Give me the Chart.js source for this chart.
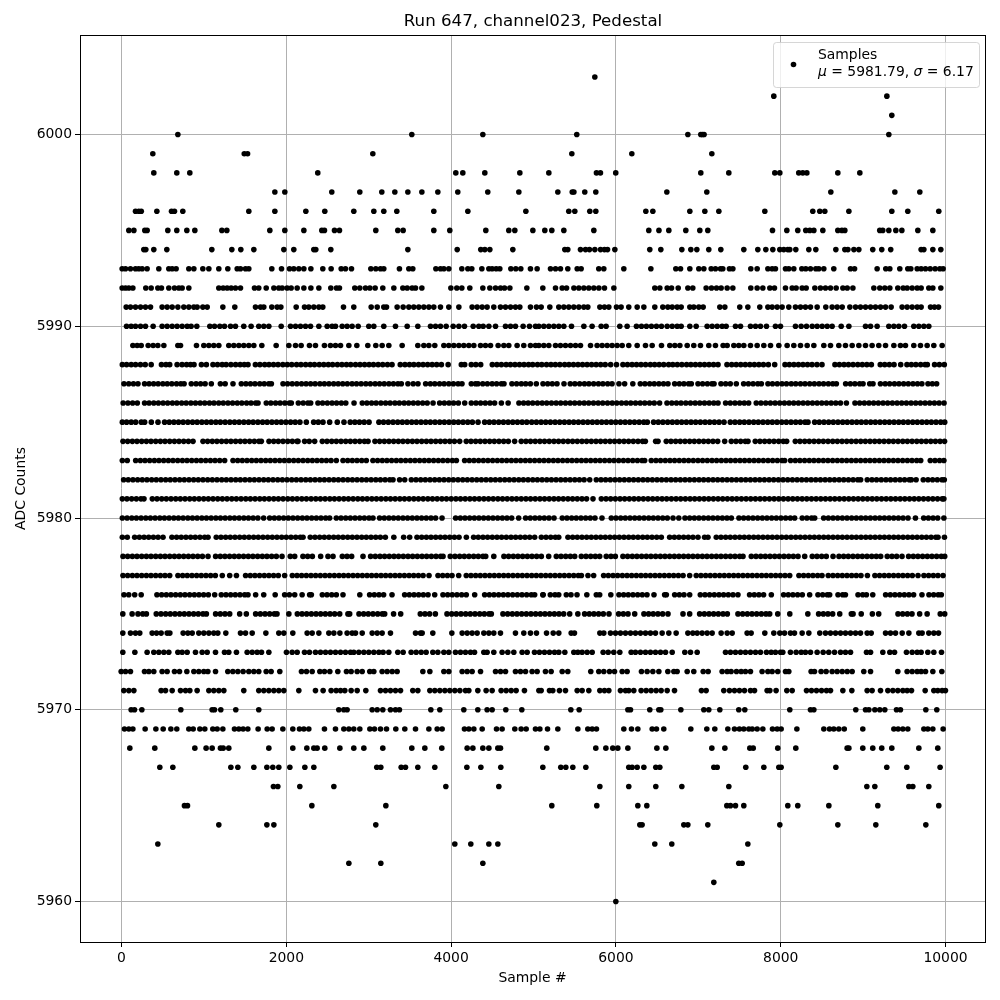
<!DOCTYPE html>
<html>
<head>
<meta charset="utf-8">
<style>html,body{margin:0;padding:0;background:#fff}#w{width:1000px;height:1000px;position:relative}</style>
<script src="https://cdn.jsdelivr.net/npm/chart.js@4"></script>
</head>
<body>
<div id="w"><canvas id="c" width="1000" height="1000"></canvas></div>
<script>
const xTicks = [0, 2000, 4000, 6000, 8000, 10000];
const yTicks = [5960, 5970, 5980, 5990, 6000];
const titleText = "Run 647, channel023, Pedestal";
const xLabel = "Sample #";
const yLabel = "ADC Counts";
const seriesName = "Samples";

const s6003 = [5744];
const s6002 = [7916, 9288];
const s6001 = [9348];
const s6000 = [684, 3523, 4385, 5525, 6873, 7030, 7050, 7070, 9312];
const s5999 = [380, 1490, 1530, 3050, 5465, 6193, 7164];
const s5998 = [392, 671, 829, 2382, 4057, 4142, 4409, 4834, 5186, 5764, 5812, 5998, 7030, 7370, 7928, 7989, 8219, 8268, 8317, 8693, 8960];
const s5997 = [1861, 1982, 2552, 2892, 3159, 3317, 3475, 3645, 3839, 4081, 4445, 4822, 5295, 5470, 5490, 5622, 5756, 6618, 7103, 8608, 9385, 9688];
const s5996 = [170, 210, 240, 429, 607, 643, 744, 1545, 1861, 2237, 2467, 2819, 3062, 3183, 3341, 3790, 4203, 4907, 5428, 5501, 5683, 5756, 6363, 6448, 6897, 7079, 7249, 7807, 8389, 8474, 8535, 8827, 9348, 9542, 9918];
const s5995 = [89, 150, 283, 311, 562, 671, 793, 890, 1218, 1278, 1800, 1982, 2213, 2431, 2463, 2585, 2645, 3086, 3353, 3418, 3790, 3984, 4421, 4700, 4773, 4992, 5137, 5222, 5368, 5732, 6399, 6522, 6642, 6848, 7018, 7115, 7900, 8074, 8207, 8304, 8353, 8402, 8511, 8693, 8742, 8778, 9202, 9238, 9312, 9397, 9470, 9664, 9846];
const s5994 = [271, 295, 392, 550, 1096, 1339, 1448, 1606, 1970, 2091, 2334, 2358, 2540, 3475, 4074, 4360, 4409, 4470, 4749, 5380, 5416, 5570, 5631, 5679, 5744, 5813, 5861, 5898, 5987, 6411, 6545, 6800, 6909, 6982, 7127, 7273, 7552, 7722, 7819, 7904, 7989, 8037, 8086, 8110, 8183, 8341, 8426, 8669, 8778, 8815, 8888, 8948, 9117, 9226, 9335, 9704, 9737, 9846, 9943];
const s5993 = [8, 49, 109, 170, 210, 251, 311, 453, 574, 615, 663, 817, 878, 987, 1060, 1181, 1290, 1404, 1444, 1505, 1545, 1824, 1942, 2039, 2091, 2152, 2213, 2298, 2443, 2544, 2666, 2718, 2791, 3026, 3086, 3143, 3183, 3373, 3487, 3535, 3815, 3871, 3912, 3972, 4130, 4203, 4251, 4373, 4458, 4498, 4547, 4591, 4725, 4785, 4846, 4963, 5044, 5206, 5267, 5327, 5416, 5530, 5578, 5792, 5853, 6096, 6424, 6727, 6784, 6897, 7006, 7067, 7156, 7208, 7269, 7297, 7378, 7419, 7637, 7714, 7844, 7896, 7936, 8058, 8098, 8159, 8256, 8304, 8361, 8426, 8462, 8523, 8644, 8847, 8896, 9170, 9275, 9324, 9445, 9542, 9579, 9656, 9704, 9757, 9814, 9874, 9931, 9971];
const s5992 = [8, 49, 89, 138, 295, 360, 441, 485, 574, 643, 696, 736, 817, 1181, 1234, 1282, 1331, 1383, 1444, 1614, 1666, 1756, 1849, 1909, 1950, 2010, 2059, 2132, 2213, 2298, 2395, 2540, 2609, 2645, 2831, 2892, 2961, 3014, 3078, 3171, 3305, 3414, 3467, 3527, 3568, 3645, 3997, 4069, 4130, 4227, 4385, 4470, 4539, 4600, 4648, 4713, 4919, 5113, 5267, 5348, 5401, 5490, 5550, 5611, 5671, 5732, 5793, 5861, 5975, 6472, 6533, 6622, 6675, 6756, 6873, 6933, 7095, 7160, 7221, 7277, 7350, 7419, 7637, 7714, 7783, 7868, 7924, 8058, 8139, 8187, 8260, 8309, 8414, 8482, 8543, 8604, 8673, 8754, 8807, 8876, 9130, 9202, 9263, 9324, 9421, 9486, 9534, 9595, 9656, 9704, 9797, 9846, 9943];
const s5991 = [57, 109, 170, 231, 291, 352, 493, 554, 615, 684, 756, 817, 878, 918, 987, 1040, 1230, 1375, 1626, 1687, 1727, 1824, 1889, 1934, 2120, 2221, 2273, 2334, 2395, 2443, 2694, 2819, 3030, 3103, 3183, 3216, 3345, 3418, 3487, 3547, 3608, 3669, 3730, 3790, 3871, 3972, 4094, 4255, 4316, 4377, 4437, 4518, 4599, 4660, 4721, 4781, 4834, 4963, 5036, 5093, 5198, 5307, 5368, 5428, 5489, 5550, 5611, 5659, 5805, 5861, 5914, 6007, 6063, 6156, 6258, 6339, 6472, 6569, 6630, 6683, 6743, 6792, 6897, 6945, 7006, 7059, 7261, 7322, 7503, 7601, 7746, 7844, 7896, 7957, 8017, 8098, 8179, 8240, 8300, 8361, 8442, 8547, 8624, 8685, 8746, 8839, 8908, 8968, 9029, 9090, 9150, 9211, 9272, 9340, 9473, 9534, 9595, 9656, 9704, 9818, 9866, 9915];
const s5990 = [61, 117, 170, 231, 291, 384, 493, 554, 615, 675, 736, 797, 845, 914, 1072, 1129, 1193, 1250, 1323, 1383, 1484, 1573, 1666, 1727, 1788, 1938, 2051, 2112, 2172, 2233, 2294, 2395, 2496, 2556, 2597, 2678, 2738, 2799, 2872, 3001, 3062, 3183, 3325, 3467, 3596, 3750, 3811, 3871, 3940, 4025, 4094, 4162, 4268, 4336, 4389, 4458, 4539, 4660, 4721, 4781, 4874, 4951, 5024, 5065, 5125, 5186, 5247, 5307, 5368, 5461, 5611, 5711, 5821, 5881, 6047, 6136, 6249, 6310, 6370, 6431, 6492, 6553, 6622, 6683, 6743, 6792, 6897, 6974, 7107, 7168, 7229, 7289, 7338, 7451, 7512, 7633, 7694, 7754, 7827, 7936, 7997, 8179, 8248, 8313, 8382, 8442, 8503, 8564, 8624, 8734, 8827, 9029, 9090, 9170, 9312, 9373, 9433, 9502, 9615, 9676, 9737, 9797];
const s5989 = [138, 190, 239, 324, 384, 441, 514, 684, 716, 910, 999, 1060, 1120, 1181, 1302, 1363, 1424, 1484, 1545, 1606, 1703, 1877, 2031, 2112, 2180, 2281, 2354, 2463, 2536, 2597, 2658, 2759, 2856, 2989, 3086, 3163, 3244, 3406, 3596, 3669, 3730, 3802, 3912, 3972, 4033, 4094, 4154, 4215, 4276, 4357, 4417, 4478, 4571, 4640, 4700, 4801, 4882, 4963, 5024, 5065, 5125, 5186, 5267, 5327, 5388, 5449, 5510, 5570, 5692, 5772, 5833, 5894, 5954, 6015, 6076, 6156, 6258, 6359, 6440, 6553, 6654, 6715, 6776, 6865, 6945, 7026, 7127, 7208, 7301, 7350, 7431, 7491, 7552, 7633, 7714, 7795, 7876, 7977, 8078, 8159, 8240, 8321, 8402, 8523, 8604, 8705, 8786, 8867, 8948, 9029, 9109, 9190, 9272, 9373, 9453, 9514, 9615, 9696, 9777, 9858, 9959];
const s5988 = [10, 62, 118, 171, 230, 288, 360, 485, 540, 585, 675, 735, 790, 838, 880, 970, 1030, 1110, 1165, 1222, 1270, 1328, 1385, 1440, 1490, 1535, 1625, 1680, 1738, 1790, 1845, 1900, 1958, 2012, 2066, 2125, 2178, 2235, 2290, 2342, 2400, 2455, 2510, 2562, 2620, 2675, 2730, 2782, 2840, 2895, 2950, 3005, 3058, 3115, 3170, 3228, 3283, 3383, 3440, 3495, 3548, 3605, 3660, 3715, 3770, 3825, 3882, 3964, 4124, 4165, 4245, 4300, 4359, 4500, 4556, 4610, 4668, 4720, 4775, 4830, 4885, 4940, 4990, 5048, 5100, 5158, 5212, 5265, 5320, 5378, 5430, 5485, 5540, 5595, 5650, 5705, 5760, 5815, 5870, 5936, 6007, 6085, 6140, 6196, 6250, 6305, 6360, 6418, 6470, 6525, 6580, 6640, 6690, 6745, 6800, 6858, 6910, 6965, 7020, 7075, 7130, 7185, 7239, 7348, 7405, 7460, 7515, 7570, 7625, 7680, 7735, 7790, 7850, 7927, 8052, 8105, 8160, 8215, 8270, 8325, 8380, 8440, 8501, 8658, 8712, 8768, 8822, 8878, 8935, 8990, 9045, 9100, 9208, 9262, 9318, 9375, 9456, 9532, 9585, 9640, 9698, 9752, 9779, 9867, 9925, 9985];
const s5987 = [30, 88, 145, 200, 280, 335, 390, 445, 502, 555, 610, 668, 720, 760, 847, 905, 960, 1015, 1090, 1200, 1258, 1353, 1454, 1510, 1565, 1620, 1678, 1732, 1788, 1819, 1960, 2015, 2072, 2128, 2185, 2240, 2295, 2350, 2408, 2462, 2518, 2575, 2630, 2685, 2740, 2798, 2852, 2908, 2965, 3020, 3078, 3132, 3188, 3245, 3300, 3355, 3396, 3476, 3540, 3598, 3691, 3748, 3802, 3860, 3915, 3972, 4028, 4085, 4132, 4245, 4296, 4326, 4384, 4440, 4498, 4552, 4610, 4642, 4738, 4795, 4852, 4905, 4962, 5034, 5115, 5172, 5228, 5285, 5370, 5446, 5502, 5560, 5618, 5672, 5730, 5788, 5842, 5900, 5953, 6037, 6106, 6205, 6296, 6352, 6410, 6465, 6522, 6578, 6632, 6713, 6770, 6825, 6882, 6915, 6996, 7052, 7110, 7165, 7191, 7275, 7332, 7388, 7461, 7550, 7608, 7665, 7722, 7765, 7845, 7900, 7958, 8015, 8070, 8128, 8182, 8240, 8295, 8352, 8408, 8465, 8520, 8578, 8632, 8675, 8788, 8845, 8900, 8958, 8999, 9080, 9120, 9210, 9268, 9322, 9380, 9435, 9492, 9548, 9605, 9660, 9713, 9787, 9840, 9892];
const s5986 = [20, 78, 135, 192, 280, 335, 392, 448, 505, 560, 618, 672, 730, 785, 842, 898, 955, 1010, 1068, 1122, 1180, 1235, 1292, 1348, 1405, 1460, 1518, 1572, 1628, 1657, 1757, 1812, 1870, 1925, 1982, 2038, 2061, 2146, 2205, 2262, 2296, 2384, 2440, 2498, 2555, 2610, 2668, 2722, 2822, 2922, 2978, 3035, 3090, 3148, 3205, 3260, 3318, 3372, 3430, 3485, 3542, 3598, 3655, 3710, 3781, 3861, 3918, 3975, 4030, 4088, 4165, 4245, 4302, 4358, 4415, 4472, 4528, 4610, 4692, 4823, 4880, 4935, 4990, 5048, 5105, 5160, 5218, 5275, 5330, 5388, 5445, 5500, 5558, 5615, 5670, 5728, 5785, 5840, 5898, 5955, 6010, 6068, 6125, 6180, 6238, 6295, 6350, 6408, 6465, 6530, 6620, 6678, 6735, 6790, 6848, 6905, 6962, 7018, 7075, 7132, 7188, 7239, 7331, 7388, 7445, 7502, 7558, 7611, 7703, 7760, 7818, 7875, 7932, 7988, 8045, 8102, 8158, 8215, 8272, 8328, 8385, 8442, 8498, 8555, 8612, 8668, 8725, 8797, 8901, 8958, 9015, 9072, 9128, 9185, 9242, 9298, 9355, 9412, 9468, 9525, 9582, 9638, 9695, 9752, 9808, 9865, 9922, 9982];
const s5985 = [10, 62, 118, 172, 240, 281, 362, 443, 523, 580, 636, 692, 748, 805, 862, 918, 975, 1032, 1088, 1145, 1200, 1258, 1315, 1372, 1428, 1485, 1542, 1598, 1655, 1712, 1768, 1825, 1882, 1938, 1995, 2052, 2108, 2165, 2243, 2332, 2388, 2445, 2526, 2619, 2700, 2776, 2832, 2888, 2945, 3004, 3124, 3180, 3238, 3295, 3352, 3408, 3465, 3522, 3578, 3635, 3692, 3748, 3805, 3862, 3918, 3975, 4032, 4088, 4145, 4202, 4258, 4327, 4407, 4464, 4520, 4578, 4635, 4692, 4748, 4805, 4862, 4918, 4978, 5035, 5092, 5148, 5205, 5262, 5318, 5375, 5432, 5488, 5545, 5602, 5658, 5715, 5772, 5828, 5885, 5942, 5998, 6055, 6112, 6168, 6225, 6282, 6338, 6381, 6457, 6514, 6570, 6628, 6685, 6742, 6798, 6855, 6912, 6968, 7025, 7082, 7138, 7195, 7252, 7312, 7388, 7445, 7502, 7558, 7615, 7672, 7728, 7785, 7842, 7898, 7955, 8012, 8068, 8125, 8182, 8238, 8295, 8331, 8412, 8468, 8525, 8582, 8638, 8695, 8752, 8808, 8865, 8922, 8978, 9035, 9092, 9148, 9205, 9262, 9318, 9375, 9432, 9488, 9545, 9602, 9658, 9715, 9772, 9828, 9885, 9942, 9990];
const s5984 = [18, 75, 132, 188, 245, 302, 358, 415, 472, 528, 585, 642, 698, 755, 812, 868, 989, 1045, 1102, 1158, 1215, 1272, 1328, 1385, 1442, 1498, 1555, 1612, 1668, 1697, 1790, 1847, 1903, 1960, 2017, 2073, 2130, 2142, 2222, 2278, 2344, 2437, 2494, 2551, 2607, 2664, 2721, 2777, 2834, 2891, 2948, 2992, 3076, 3133, 3190, 3246, 3303, 3360, 3416, 3473, 3530, 3586, 3643, 3700, 3756, 3813, 3870, 3926, 3983, 4040, 4104, 4184, 4241, 4298, 4354, 4411, 4468, 4524, 4581, 4638, 4694, 4771, 4851, 4908, 4964, 5021, 5078, 5134, 5191, 5248, 5304, 5361, 5418, 5474, 5531, 5588, 5644, 5701, 5758, 5814, 5871, 5928, 5984, 6041, 6098, 6154, 6211, 6268, 6324, 6357, 6482, 6511, 6611, 6668, 6725, 6781, 6838, 6895, 6951, 7008, 7065, 7121, 7178, 7235, 7320, 7400, 7457, 7514, 7570, 7603, 7691, 7748, 7805, 7861, 7918, 7975, 8031, 8072, 8177, 8234, 8291, 8347, 8404, 8461, 8517, 8574, 8631, 8687, 8744, 8801, 8857, 8914, 8971, 9027, 9084, 9141, 9197, 9254, 9311, 9367, 9424, 9481, 9537, 9594, 9651, 9707, 9764, 9821, 9877, 9934, 9988];
const s5983 = [10, 70, 172, 229, 285, 342, 399, 455, 512, 569, 625, 682, 739, 795, 852, 909, 965, 1022, 1079, 1135, 1192, 1252, 1353, 1410, 1466, 1523, 1580, 1636, 1693, 1750, 1806, 1863, 1920, 1976, 2033, 2090, 2146, 2203, 2260, 2316, 2373, 2430, 2486, 2543, 2607, 2688, 2745, 2801, 2858, 2915, 2971, 3051, 3108, 3165, 3221, 3278, 3335, 3391, 3448, 3505, 3561, 3618, 3675, 3731, 3788, 3845, 3901, 3958, 4015, 4064, 4164, 4221, 4277, 4334, 4391, 4447, 4504, 4561, 4617, 4674, 4731, 4787, 4844, 4901, 4957, 5014, 5071, 5127, 5184, 5241, 5297, 5354, 5411, 5467, 5524, 5581, 5637, 5694, 5751, 5807, 5864, 5921, 5977, 6034, 6091, 6147, 6204, 6261, 6317, 6349, 6429, 6486, 6542, 6599, 6656, 6712, 6769, 6826, 6882, 6939, 6996, 7052, 7109, 7166, 7222, 7279, 7336, 7392, 7449, 7506, 7562, 7619, 7676, 7732, 7789, 7846, 7902, 7959, 8016, 8048, 8120, 8177, 8233, 8290, 8347, 8403, 8460, 8517, 8573, 8630, 8687, 8743, 8800, 8857, 8913, 8970, 9027, 9083, 9140, 9197, 9253, 9310, 9367, 9423, 9480, 9537, 9593, 9650, 9699, 9815, 9872, 9928, 9980];
const s5982 = [26, 82, 139, 196, 252, 309, 366, 422, 479, 536, 592, 649, 706, 762, 819, 876, 932, 989, 1046, 1102, 1159, 1216, 1272, 1329, 1386, 1442, 1499, 1556, 1612, 1669, 1726, 1782, 1839, 1896, 1952, 2009, 2066, 2122, 2179, 2236, 2292, 2349, 2406, 2462, 2519, 2576, 2632, 2689, 2746, 2802, 2859, 2916, 2972, 3029, 3086, 3142, 3199, 3256, 3295, 3375, 3437, 3517, 3574, 3631, 3687, 3744, 3801, 3857, 3914, 3971, 4027, 4084, 4141, 4197, 4254, 4311, 4367, 4424, 4481, 4537, 4594, 4651, 4707, 4764, 4821, 4877, 4934, 4991, 5047, 5104, 5161, 5217, 5274, 5331, 5387, 5444, 5501, 5557, 5614, 5682, 5762, 5819, 5875, 5932, 5989, 6045, 6102, 6159, 6215, 6272, 6329, 6385, 6442, 6499, 6555, 6612, 6669, 6725, 6782, 6839, 6895, 6952, 7009, 7065, 7122, 7179, 7235, 7292, 7349, 7405, 7462, 7519, 7575, 7632, 7689, 7745, 7802, 7859, 7915, 7972, 8029, 8085, 8142, 8199, 8255, 8312, 8369, 8425, 8482, 8539, 8595, 8652, 8709, 8765, 8822, 8879, 8935, 8970, 9050, 9107, 9163, 9220, 9277, 9333, 9390, 9447, 9503, 9560, 9585, 9643, 9730, 9787, 9843, 9900, 9957, 9985];
const s5981 = [10, 66, 123, 180, 236, 273, 374, 431, 488, 544, 601, 658, 714, 771, 828, 884, 941, 998, 1054, 1111, 1168, 1224, 1281, 1338, 1394, 1451, 1508, 1564, 1621, 1678, 1734, 1791, 1848, 1904, 1961, 2018, 2074, 2131, 2188, 2244, 2301, 2358, 2414, 2471, 2528, 2584, 2641, 2698, 2754, 2811, 2868, 2924, 2981, 3038, 3094, 3151, 3208, 3264, 3321, 3378, 3434, 3491, 3548, 3604, 3661, 3718, 3774, 3831, 3888, 3944, 4001, 4058, 4114, 4171, 4228, 4284, 4341, 4398, 4454, 4511, 4568, 4624, 4681, 4738, 4794, 4851, 4908, 4964, 5021, 5078, 5134, 5191, 5248, 5304, 5361, 5418, 5474, 5531, 5588, 5644, 5722, 5823, 5880, 5936, 5993, 6050, 6106, 6163, 6220, 6276, 6333, 6390, 6446, 6503, 6560, 6616, 6673, 6730, 6786, 6843, 6900, 6956, 7013, 7070, 7126, 7183, 7240, 7296, 7353, 7410, 7466, 7523, 7580, 7636, 7693, 7750, 7806, 7863, 7920, 7976, 8033, 8090, 8146, 8203, 8260, 8316, 8373, 8430, 8486, 8543, 8600, 8656, 8713, 8770, 8826, 8883, 8940, 8996, 9053, 9110, 9166, 9223, 9280, 9336, 9393, 9450, 9506, 9563, 9620, 9676, 9733, 9790, 9846, 9903, 9960, 9980];
const s5980 = [10, 68, 125, 181, 238, 295, 351, 408, 465, 521, 578, 635, 691, 748, 805, 861, 918, 975, 1031, 1088, 1145, 1201, 1258, 1315, 1371, 1428, 1485, 1541, 1598, 1655, 1725, 1798, 1855, 1911, 1968, 2025, 2081, 2138, 2195, 2251, 2308, 2365, 2421, 2478, 2526, 2607, 2664, 2721, 2777, 2834, 2891, 2947, 3004, 3052, 3132, 3189, 3246, 3302, 3359, 3416, 3472, 3529, 3586, 3642, 3699, 3756, 3812, 3890, 4055, 4112, 4168, 4225, 4282, 4338, 4395, 4452, 4508, 4565, 4622, 4678, 4735, 4820, 4904, 4961, 5018, 5074, 5131, 5188, 5249, 5349, 5406, 5463, 5519, 5576, 5633, 5689, 5746, 5831, 5944, 6001, 6058, 6114, 6171, 6228, 6284, 6341, 6398, 6454, 6511, 6568, 6624, 6693, 6763, 6838, 6895, 6952, 7008, 7065, 7122, 7178, 7235, 7292, 7348, 7401, 7493, 7550, 7607, 7663, 7720, 7777, 7833, 7890, 7947, 8003, 8060, 8117, 8169, 8261, 8318, 8375, 8412, 8521, 8578, 8635, 8691, 8748, 8805, 8861, 8918, 8975, 9031, 9088, 9145, 9201, 9258, 9315, 9371, 9428, 9485, 9545, 9635, 9735, 9792, 9849, 9905, 9980];
const s5979 = [10, 70, 160, 217, 274, 330, 387, 444, 504, 612, 669, 725, 782, 839, 895, 952, 1009, 1050, 1150, 1207, 1264, 1320, 1377, 1434, 1490, 1547, 1604, 1660, 1717, 1774, 1830, 1887, 1944, 2000, 2057, 2114, 2170, 2203, 2291, 2348, 2405, 2461, 2518, 2575, 2631, 2688, 2745, 2801, 2858, 2915, 2971, 3028, 3085, 3141, 3202, 3305, 3424, 3497, 3586, 3643, 3700, 3756, 3813, 3870, 3926, 3983, 4040, 4096, 4185, 4273, 4330, 4387, 4443, 4500, 4557, 4613, 4670, 4727, 4783, 4840, 4897, 4953, 5014, 5095, 5152, 5209, 5265, 5306, 5418, 5475, 5531, 5588, 5645, 5701, 5758, 5815, 5871, 5928, 5985, 6041, 6098, 6155, 6211, 6268, 6325, 6381, 6438, 6495, 6551, 6652, 6709, 6765, 6822, 6879, 6935, 6996, 7076, 7117, 7218, 7275, 7332, 7388, 7445, 7502, 7558, 7615, 7672, 7728, 7785, 7842, 7898, 7955, 8012, 8068, 8125, 8182, 8238, 8295, 8352, 8408, 8465, 8522, 8578, 8635, 8692, 8748, 8805, 8862, 8918, 8975, 9032, 9088, 9145, 9202, 9258, 9315, 9372, 9428, 9485, 9542, 9598, 9655, 9712, 9768, 9825, 9882, 9909, 9987];
const s5978 = [18, 75, 132, 188, 245, 302, 358, 415, 472, 528, 585, 642, 698, 755, 812, 868, 925, 982, 1050, 1142, 1199, 1255, 1312, 1369, 1425, 1482, 1539, 1595, 1652, 1709, 1765, 1822, 1879, 1948, 2048, 2102, 2202, 2259, 2316, 2417, 2506, 2567, 2680, 2737, 2793, 2931, 3023, 3080, 3137, 3193, 3250, 3307, 3363, 3420, 3477, 3533, 3590, 3647, 3703, 3760, 3817, 3873, 3902, 3990, 4047, 4104, 4160, 4217, 4274, 4330, 4387, 4420, 4518, 4641, 4698, 4755, 4811, 4868, 4925, 4981, 5038, 5095, 5184, 5277, 5334, 5391, 5447, 5500, 5580, 5637, 5694, 5750, 5803, 5883, 5940, 5993, 6085, 6142, 6199, 6255, 6312, 6369, 6425, 6482, 6539, 6595, 6652, 6709, 6765, 6822, 6879, 6935, 6992, 7049, 7105, 7162, 7219, 7275, 7332, 7389, 7445, 7502, 7542, 7643, 7700, 7757, 7813, 7870, 7927, 7983, 8040, 8097, 8153, 8210, 8291, 8383, 8440, 8497, 8553, 8635, 8707, 8764, 8820, 8877, 8934, 8990, 9047, 9104, 9160, 9213, 9293, 9350, 9407, 9472, 9552, 9609, 9665, 9722, 9779, 9835, 9892, 9949, 9990];
const s5977 = [18, 75, 132, 188, 245, 302, 358, 415, 472, 528, 585, 685, 742, 798, 855, 912, 968, 1025, 1082, 1139, 1223, 1313, 1395, 1506, 1563, 1619, 1676, 1733, 1789, 1846, 1903, 1980, 2073, 2130, 2186, 2243, 2300, 2356, 2413, 2470, 2526, 2583, 2640, 2696, 2753, 2810, 2866, 2923, 2980, 3036, 3093, 3150, 3206, 3263, 3320, 3376, 3433, 3490, 3546, 3603, 3660, 3732, 3841, 3898, 3955, 4011, 4092, 4184, 4241, 4298, 4354, 4411, 4468, 4524, 4581, 4638, 4694, 4751, 4808, 4864, 4921, 4978, 5034, 5091, 5148, 5204, 5261, 5318, 5374, 5431, 5488, 5544, 5581, 5661, 5730, 5851, 5908, 5965, 6021, 6078, 6135, 6191, 6248, 6305, 6361, 6418, 6475, 6531, 6588, 6645, 6701, 6758, 6815, 6895, 6975, 7032, 7089, 7145, 7202, 7259, 7315, 7372, 7429, 7485, 7542, 7599, 7655, 7712, 7769, 7825, 7882, 7939, 7995, 8052, 8109, 8221, 8278, 8335, 8391, 8448, 8501, 8577, 8634, 8691, 8747, 8804, 8861, 8917, 8974, 9052, 9143, 9200, 9257, 9313, 9370, 9427, 9483, 9540, 9597, 9666, 9738, 9795, 9852, 9908, 9970];
const s5976 = [30, 88, 160, 239, 430, 487, 544, 600, 657, 714, 770, 827, 884, 940, 997, 1054, 1131, 1211, 1268, 1325, 1381, 1438, 1495, 1535, 1628, 1726, 1865, 1980, 2037, 2102, 2192, 2283, 2304, 2437, 2494, 2551, 2607, 2688, 2892, 3011, 3068, 3125, 3181, 3283, 3436, 3493, 3550, 3606, 3663, 3720, 3801, 3901, 3958, 4014, 4071, 4128, 4184, 4286, 4407, 4464, 4520, 4577, 4634, 4690, 4747, 4804, 4860, 4917, 4974, 5014, 5113, 5117, 5204, 5261, 5306, 5398, 5455, 5528, 5647, 5762, 5803, 5938, 6037, 6094, 6150, 6207, 6264, 6320, 6377, 6462, 6591, 6612, 6713, 6770, 6826, 6895, 7024, 7081, 7137, 7194, 7251, 7307, 7364, 7421, 7481, 7622, 7679, 7735, 7792, 7886, 8035, 8092, 8148, 8205, 8262, 8351, 8452, 8509, 8565, 8594, 8695, 8752, 8785, 8938, 8995, 9040, 9117, 9273, 9330, 9386, 9443, 9500, 9556, 9613, 9714, 9799, 9856, 9912, 9949];
const s5975 = [16, 129, 200, 258, 302, 422, 479, 536, 592, 649, 706, 762, 819, 876, 932, 989, 1030, 1142, 1199, 1256, 1313, 1434, 1515, 1628, 1685, 1742, 1798, 1855, 1887, 2031, 2134, 2191, 2247, 2304, 2361, 2417, 2474, 2531, 2587, 2648, 2748, 2769, 2882, 2939, 2995, 3052, 3109, 3165, 3194, 3302, 3388, 3626, 3683, 3739, 3809, 3950, 4007, 4063, 4120, 4177, 4233, 4290, 4347, 4403, 4460, 4488, 4629, 4686, 4743, 4799, 4856, 4913, 4969, 5026, 5083, 5139, 5196, 5253, 5309, 5366, 5439, 5538, 5620, 5677, 5733, 5790, 5847, 5916, 6033, 6090, 6147, 6228, 6340, 6397, 6453, 6510, 6567, 6632, 6814, 6895, 7016, 7073, 7130, 7186, 7243, 7300, 7352, 7481, 7538, 7595, 7651, 7708, 7765, 7821, 7866, 7964, 8110, 8329, 8460, 8517, 8573, 8630, 8716, 8857, 8878, 8977, 9112, 9189, 9423, 9480, 9537, 9593, 9686, 9777, 9936, 9990];
const s5974 = [16, 109, 170, 222, 372, 425, 481, 554, 587, 748, 805, 858, 938, 999, 1060, 1120, 1169, 1266, 1444, 1505, 1586, 1752, 1909, 1970, 2079, 2253, 2314, 2395, 2516, 2577, 2650, 2738, 2799, 2840, 2921, 3042, 3103, 3163, 3264, 3568, 3628, 3649, 3778, 4009, 4134, 4195, 4255, 4316, 4397, 4458, 4518, 4599, 4781, 4882, 4963, 5036, 5158, 5239, 5307, 5457, 5497, 5805, 5853, 5934, 5995, 6055, 6116, 6177, 6237, 6298, 6359, 6419, 6480, 6561, 6642, 6731, 6873, 6933, 6986, 7046, 7107, 7168, 7277, 7350, 7411, 7592, 7641, 7807, 7916, 7989, 8046, 8118, 8167, 8260, 8341, 8474, 8543, 8604, 8665, 8726, 8786, 8847, 8908, 8968, 9049, 9098, 9272, 9332, 9393, 9474, 9555, 9676, 9716, 9797, 9858, 9915];
const s5973 = [16, 162, 311, 392, 453, 514, 574, 684, 736, 797, 898, 979, 1040, 1141, 1250, 1302, 1395, 1525, 1586, 1646, 1699, 1788, 2002, 2071, 2132, 2221, 2281, 2354, 2415, 2476, 2536, 2597, 2658, 2718, 2779, 2819, 2880, 2941, 3001, 3062, 3123, 3175, 3244, 3353, 3418, 3515, 3576, 3637, 3697, 3778, 3839, 3912, 3972, 4053, 4114, 4174, 4235, 4284, 4397, 4437, 4518, 4619, 4688, 4761, 4862, 4923, 5012, 5072, 5133, 5194, 5255, 5307, 5380, 5489, 5538, 5590, 5651, 5712, 5845, 5906, 5974, 6047, 6185, 6237, 6298, 6359, 6419, 6480, 6541, 6602, 6683, 6836, 6905, 6986, 7330, 7390, 7451, 7512, 7572, 7633, 7694, 7754, 7827, 7884, 7936, 7997, 8025, 8118, 8187, 8248, 8300, 8361, 8442, 8515, 8583, 8653, 8726, 8786, 8847, 9041, 9090, 9239, 9324, 9381, 9526, 9595, 9656, 9704, 9785, 9858, 9951];
const s5972 = [-4, 49, 109, 279, 332, 392, 493, 554, 643, 704, 793, 878, 938, 999, 1048, 1141, 1290, 1351, 1412, 1476, 1545, 1606, 1666, 1756, 1816, 1921, 2184, 2245, 2314, 2407, 2463, 2528, 2625, 2730, 2787, 2860, 2921, 3013, 3062, 3163, 3224, 3285, 3345, 3657, 3742, 3912, 3972, 4134, 4195, 4255, 4357, 4539, 4600, 4660, 4781, 4842, 4903, 4983, 5044, 5145, 5214, 5348, 5416, 5695, 5792, 5853, 5922, 5983, 6076, 6136, 6310, 6379, 6448, 6521, 6630, 6703, 6743, 6865, 6945, 7059, 7119, 7289, 7350, 7398, 7463, 7520, 7572, 7633, 7774, 7844, 7896, 7964, 8058, 8098, 8369, 8410, 8490, 8551, 8624, 8685, 8746, 8807, 8867, 9008, 9090, 9421, 9534, 9595, 9656, 9704, 9757, 9846, 9955];
const s5971 = [28, 89, 150, 481, 534, 615, 716, 777, 829, 918, 1060, 1120, 1181, 1242, 1484, 1666, 1727, 1788, 1849, 1909, 1970, 2152, 2354, 2447, 2544, 2605, 2658, 2710, 2787, 2860, 2965, 3143, 3204, 3264, 3325, 3386, 3535, 3596, 3742, 3802, 3863, 3924, 3984, 4045, 4106, 4174, 4215, 4324, 4425, 4498, 4607, 4668, 4729, 4789, 4890, 5065, 5093, 5194, 5234, 5315, 5388, 5530, 5590, 5671, 5805, 5861, 5914, 6055, 6116, 6156, 6217, 6306, 6367, 6427, 6488, 6549, 6622, 6711, 7038, 7095, 7309, 7378, 7439, 7499, 7560, 7633, 7682, 7835, 7868, 7944, 8074, 8139, 8313, 8373, 8434, 8495, 8555, 8604, 8754, 8863, 9049, 9109, 9211, 9300, 9361, 9421, 9482, 9534, 9587, 9753, 9858, 9906, 9959, 9999];
const s5970 = [117, 158, 247, 720, 1100, 1129, 1205, 1387, 1666, 2637, 2698, 2738, 3042, 3103, 3171, 3264, 3325, 3373, 3754, 3863, 4154, 4324, 4437, 4498, 4664, 4858, 5453, 5554, 6145, 6177, 6411, 6521, 6545, 6788, 7067, 7127, 7261, 7491, 7564, 8110, 8361, 8402, 8911, 9029, 9070, 9142, 9202, 9263, 9405, 9453, 9761, 9894];
const s5969 = [36, 89, 138, 287, 417, 506, 599, 671, 817, 870, 951, 1011, 1108, 1161, 1230, 1371, 1424, 1476, 1533, 1658, 1768, 1828, 1958, 2079, 2160, 2213, 2273, 2463, 2597, 2698, 2759, 2819, 2892, 3014, 3070, 3143, 3216, 3329, 3438, 3568, 3730, 3831, 3891, 4162, 4215, 4276, 4377, 4551, 4619, 4773, 4850, 4911, 5024, 5077, 5170, 5295, 5538, 5659, 5712, 5764, 6096, 6189, 6266, 6440, 6492, 6581, 6909, 7103, 7200, 7358, 7439, 7499, 7552, 7613, 7654, 7714, 7783, 7900, 7957, 8005, 8196, 8523, 8592, 8644, 8705, 8771, 8996, 9373, 9425, 9482, 9542, 9737, 9785, 9846, 9971];
const s5968 = [101, 404, 890, 1027, 1100, 1201, 1234, 1302, 1788, 2079, 2249, 2334, 2374, 2467, 2650, 2819, 2941, 3171, 3523, 3681, 3887, 4195, 4264, 4385, 4458, 4567, 4599, 5161, 5756, 5878, 5962, 6023, 6145, 6497, 6606, 7164, 7322, 7625, 7666, 7964, 8183, 8806, 8827, 8996, 9117, 9226, 9348, 9676, 9906];
const s5967 = [465, 623, 1327, 1412, 1606, 1764, 1836, 1909, 2043, 2225, 2334, 3098, 3147, 3394, 3446, 3596, 3802, 4191, 4361, 4603, 5113, 5331, 5392, 5477, 5635, 6156, 6197, 6258, 6339, 6484, 6533, 7188, 7229, 7576, 7795, 7977, 8005, 8669, 9287, 9530, 9934];
const s5966 = [1844, 1897, 2164, 2577, 3936, 4579, 5805, 6156, 6484, 6800, 7370, 9045, 9142, 9555, 9603, 9797];
const s5965 = [764, 801, 2310, 3208, 5222, 5768, 6266, 6375, 7346, 7390, 7451, 7552, 8086, 8207, 8584, 9178, 9918];
const s5964 = [1181, 1764, 1849, 3086, 6290, 6318, 6824, 6873, 7115, 7989, 8693, 9154, 9761];
const s5963 = [441, 4045, 4239, 4458, 4567, 6472, 6678, 7601];
const s5962 = [2759, 3147, 4385, 7491, 7532];
const s5961 = [7188];
const s5960 = [5999];

const levels = [6003,6002,6001,6000,5999,5998,5997,5996,5995,5994,5993,5992,5991,5990,5989,5988,5987,5986,5985,5984,5983,5982,5981,5980,5979,5978,5977,5976,5975,5974,5973,5972,5971,5970,5969,5968,5967,5966,5965,5964,5963,5962,5961,5960];
const rows = [s6003,s6002,s6001,s6000,s5999,s5998,s5997,s5996,s5995,s5994,s5993,s5992,s5991,s5990,s5989,s5988,s5987,s5986,s5985,s5984,s5983,s5982,s5981,s5980,s5979,s5978,s5977,s5976,s5975,s5974,s5973,s5972,s5971,s5970,s5969,s5968,s5967,s5966,s5965,s5964,s5963,s5962,s5961,s5960];

const points = [];
levels.forEach((lv, i) => rows[i].forEach(x => points.push({x: x, y: lv})));

const FONT = '"DejaVu Sans"';

const frameAndLegend = {
  id: 'frameAndLegend',
  afterLayout(chart) {
    if (chart.titleBlock) {
      chart.titleBlock.left = chart.chartArea.left + 1;
      chart.titleBlock.right = chart.chartArea.right;
    }
  },
  afterDraw(chart) {
    const ctx = chart.ctx, a = chart.chartArea;
    ctx.save();
    ctx.strokeStyle = '#000';
    ctx.lineWidth = 1;
    ctx.strokeRect(Math.round(a.left) + 0.5, Math.round(a.top) + 0.5, Math.round(a.right - a.left), Math.round(a.bottom - a.top));
    const bx = a.right - 212, by = a.top + 7, bw = 206, bh = 45;
    ctx.beginPath();
    ctx.roundRect(bx + 0.5, by + 0.5, bw, bh, 3);
    ctx.fillStyle = 'rgba(255,255,255,0.8)';
    ctx.fill();
    ctx.strokeStyle = 'rgba(204,204,204,0.8)';
    ctx.stroke();
    ctx.fillStyle = '#000';
    ctx.beginPath();
    ctx.arc(bx + 20.5, by + 22.5, 2.8, 0, Math.PI * 2);
    ctx.fill();
    const tx = bx + 45;
    ctx.textBaseline = 'alphabetic';
    ctx.textAlign = 'left';
    ctx.font = '13.9px ' + FONT;
    ctx.fillText(seriesName, tx, by + 17);
    let cx = tx;
    const yy = by + 34;
    [['\u03bc', true], [' = 5981.79, ', false], ['\u03c3', true], [' = 6.17', false]].forEach(([t, it]) => {
      ctx.font = (it ? 'italic ' : '') + '13.9px ' + FONT;
      ctx.fillText(t, cx, yy);
      cx += ctx.measureText(t).width;
    });
    ctx.restore();
  }
};

new Chart(document.getElementById('c'), {
  type: 'scatter',
  data: {
    datasets: [{
      label: seriesName,
      data: points,
      backgroundColor: '#000',
      borderWidth: 0,
      pointRadius: 2.8,
      pointHoverRadius: 2.8
    }]
  },
  options: {
    responsive: false,
    animation: false,
    layout: { padding: { left: 0, right: 15, top: 0, bottom: 0 } },
    plugins: {
      legend: { display: false },
      tooltip: { enabled: false },
      title: {
        display: true,
        text: titleText,
        color: '#000',
        font: { family: FONT, size: 16.67, weight: 'normal' },
        padding: { top: 12, bottom: 3 }
      }
    },
    scales: {
      x: {
        type: 'linear',
        min: -503.6,
        max: 10479,
        afterBuildTicks(s) { s.ticks = xTicks.map(v => ({ value: v })); },
        afterFit(s) { s.height = 58; },
        title: { display: true, text: xLabel, color: '#000', font: { family: FONT, size: 13.9 }, padding: { top: 3, bottom: 13 } },
        ticks: { color: '#000', font: { family: FONT, size: 13.9 }, maxRotation: 0, padding: 3, callback: v => String(v) },
        grid: { color: '#b0b0b0', lineWidth: 1, tickColor: '#000', tickLength: 5 },
        border: { color: '#000' }
      },
      y: {
        type: 'linear',
        min: 5957.89,
        max: 6005.19,
        afterBuildTicks(s) { s.ticks = yTicks.map(v => ({ value: v })); },
        afterFit(s) { s.width = 80; },
        title: { display: true, text: yLabel, color: '#000', font: { family: FONT, size: 13.9 }, padding: { top: 13, bottom: 0 } },
        ticks: { color: '#000', font: { family: FONT, size: 13.9 }, padding: 3, callback: v => String(v) },
        grid: { color: '#b0b0b0', lineWidth: 1, tickColor: '#000', tickLength: 5 },
        border: { color: '#000' }
      }
    }
  },
  plugins: [frameAndLegend]
});
</script>
</body>
</html>
